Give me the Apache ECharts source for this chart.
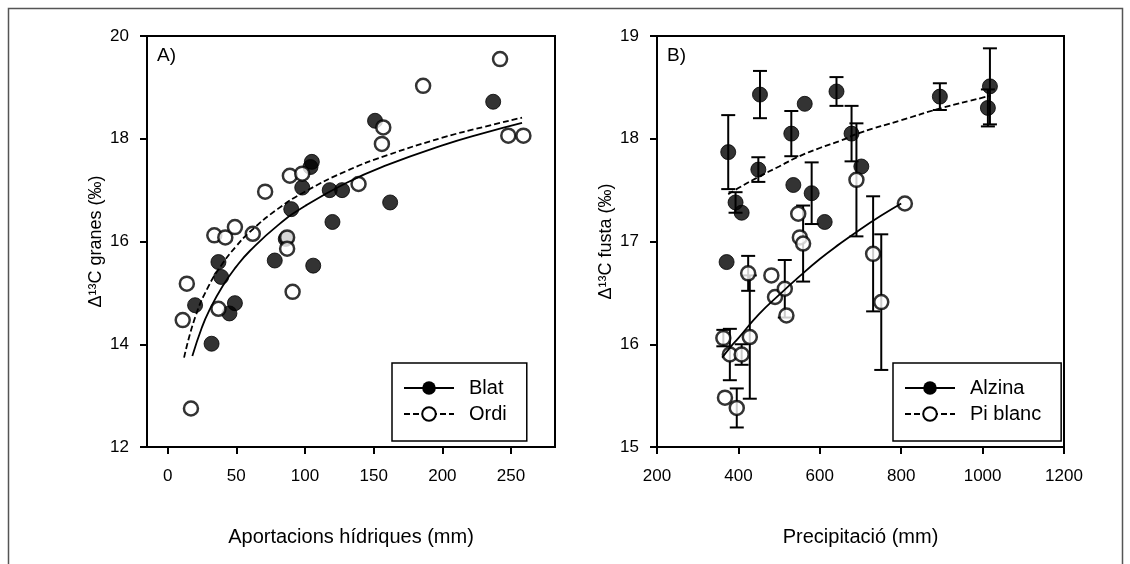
<!DOCTYPE html>
<html><head><meta charset="utf-8">
<script src="https://cdn.jsdelivr.net/npm/echarts@6/dist/echarts.min.js"></script>
<style>html,body{margin:0;padding:0;background:#fff}#c{width:1130px;height:564px}</style>
</head><body><div id="c"></div><script>
// ---------- Panel A data ----------
const blatX = [20, 32, 37, 39, 45, 49, 78, 86, 90, 98, 104, 105, 106, 118, 127, 120, 151, 162, 237];
const blatY = [14.76, 14.01, 15.60, 15.31, 14.60, 14.80, 15.63, 16.05, 16.63, 17.05, 17.45, 17.55, 15.53, 17.00, 17.00, 16.38, 18.35, 16.76, 18.72];
const ordiX = [11, 14, 17, 34, 37, 42, 49, 62, 71, 87, 87, 89, 91, 98, 139, 156, 157, 186, 242, 248, 259];
const ordiY = [14.47, 15.18, 12.75, 16.12, 14.69, 16.08, 16.28, 16.15, 16.97, 16.08, 15.86, 17.28, 15.02, 17.32, 17.12, 17.90, 18.22, 19.03, 19.55, 18.06, 18.06];
const ordiFitX = [12, 20, 30, 40, 50, 60, 80, 100, 130, 160, 200, 230, 258];
const ordiFitY = [13.74, 14.52, 15.14, 15.57, 15.91, 16.19, 16.63, 16.97, 17.37, 17.68, 18.02, 18.23, 18.41];
const blatFitX = [18, 25, 30, 40, 50, 60, 80, 100, 130, 160, 200, 230, 258];
const blatFitY = [13.77, 14.33, 14.64, 15.13, 15.51, 15.82, 16.31, 16.69, 17.14, 17.49, 17.87, 18.11, 18.31];
const aXTicks = [0, 50, 100, 150, 200, 250];

// ---------- Panel B data ----------
const alzX = [371, 375, 393, 408, 449, 453, 530, 535, 563, 580, 612, 641, 678, 702, 895, 1013, 1018];
const alzY = [16.80, 17.87, 17.38, 17.28, 17.70, 18.43, 18.05, 17.55, 18.34, 17.47, 17.19, 18.46, 18.05, 17.73, 18.41, 18.30, 18.51];
const alzE = [0, 0.36, 0.1, 0, 0.12, 0.23, 0.22, 0, 0, 0.30, 0, 0.14, 0.27, 0, 0.13, 0.18, 0.37];
const piX = [363, 367, 379, 396, 408, 424, 428, 481, 490, 514, 518, 547, 551, 559, 690, 731, 751, 809];
const piY = [16.06, 15.48, 15.90, 15.38, 15.90, 16.69, 16.07, 16.67, 16.46, 16.54, 16.28, 17.27, 17.04, 16.98, 17.60, 16.88, 16.41, 17.37];
const piE = [0.08, 0, 0.25, 0.19, 0.1, 0.17, 0.6, 0, 0, 0.28, 0, 0, 0, 0.37, 0.55, 0.56, 0.66, 0];
const alzFitX = [375, 400, 450, 500, 550, 600, 650, 700, 800, 900, 1000, 1020];
const alzFitY = [17.46, 17.52, 17.63, 17.73, 17.83, 17.91, 17.98, 18.06, 18.18, 18.30, 18.40, 18.42];
const piFitX = [360, 380, 400, 450, 500, 550, 600, 650, 700, 750, 800];
const piFitY = [15.87, 15.97, 16.06, 16.29, 16.48, 16.66, 16.83, 16.98, 17.12, 17.25, 17.37];

const FONT = "'Liberation Sans', Arial, sans-serif";
const zip = (xs, ys) => xs.map((x, i) => [x, ys[i]]);
const zip3 = (xs, ys, es) => xs.map((x, i) => [x, ys[i], es[i]]);

function errRender(params, api) {
  const x = api.value(0), y = api.value(1), e = api.value(2);
  if (!e) return {type: 'group', children: []};
  const top = api.coord([x, y + e]), bot = api.coord([x, y - e]);
  const cap = 7;
  const st = {stroke: '#000', lineWidth: 2};
  return {type: 'group', children: [
    {type: 'line', shape: {x1: top[0], y1: top[1], x2: bot[0], y2: bot[1]}, style: st},
    {type: 'line', shape: {x1: top[0] - cap, y1: top[1], x2: top[0] + cap, y2: top[1]}, style: st},
    {type: 'line', shape: {x1: bot[0] - cap, y1: bot[1], x2: bot[0] + cap, y2: bot[1]}, style: st}
  ]};
}

const axisCommon = {
  axisLine: {show: true, onZero: false, lineStyle: {color: '#000', width: 2}},
  axisTick: {show: true, inside: false, length: 7, lineStyle: {color: '#000', width: 2}},
  splitLine: {show: false},
  axisLabel: {color: '#000', fontSize: 17, fontFamily: FONT, formatter: v => String(v)},
  nameTextStyle: {color: '#000', fontFamily: FONT}
};

const filled = {color: '#000', borderColor: '#000', borderWidth: 1};
const open = {color: '#fff', borderColor: '#000', borderWidth: 2.5};

const legendCommon = {
  orient: 'vertical', top: 363,
  padding: [15, 20, 17, 11],
  borderColor: '#000', borderWidth: 1.5,
  itemWidth: 50, itemHeight: 17, itemGap: 6,
  textStyle: {color: '#000', fontSize: 20, fontFamily: FONT, padding: [0, 0, 0, 10]},
  selectedMode: false
};

const option = {
  animation: false,
  backgroundColor: '#fff',
  graphic: [
    {type: 'rect', shape: {x: 8.5, y: 8.5, width: 1114, height: 580}, style: {fill: 'none', stroke: '#555', lineWidth: 1.5}},
    {type: 'text', left: 157, top: 46, style: {text: 'A)', fontSize: 19, fontFamily: FONT, fill: '#000'}},
    {type: 'text', left: 667, top: 46, style: {text: 'B)', fontSize: 19, fontFamily: FONT, fill: '#000'}}
  ],
  grid: [
    {left: 147, top: 36, width: 408, height: 411, show: true, borderColor: '#000', borderWidth: 2},
    {left: 657, top: 36, width: 407, height: 411, show: true, borderColor: '#000', borderWidth: 2}
  ],
  legend: [
    Object.assign({}, legendCommon, {left: 392, data: ['Blat', 'Ordi']}),
    Object.assign({}, legendCommon, {left: 893, data: ['Alzina', 'Pi blanc']})
  ],
  xAxis: [
    Object.assign({}, axisCommon, {
      type: 'value', gridIndex: 0, min: -15, max: 282,
      axisTick: Object.assign({}, axisCommon.axisTick, {customValues: aXTicks}),
      axisLabel: Object.assign({}, axisCommon.axisLabel, {customValues: aXTicks, margin: 21}),
      name: 'Aportacions hídriques (mm)', nameLocation: 'middle', nameGap: 80,
      nameTextStyle: {color: '#000', fontFamily: FONT, fontSize: 20}
    }),
    Object.assign({}, axisCommon, {
      type: 'value', gridIndex: 1, min: 200, max: 1200, interval: 200,
      axisLabel: Object.assign({}, axisCommon.axisLabel, {margin: 21}),
      name: 'Precipitació (mm)', nameLocation: 'middle', nameGap: 80,
      nameTextStyle: {color: '#000', fontFamily: FONT, fontSize: 20}
    })
  ],
  yAxis: [
    Object.assign({}, axisCommon, {
      type: 'value', gridIndex: 0, min: 12, max: 20, interval: 2,
      axisLabel: Object.assign({}, axisCommon.axisLabel, {margin: 18}),
      name: 'Δ¹³C granes (‰)', nameLocation: 'middle', nameGap: 42, nameRotate: 90,
      nameTextStyle: {color: '#000', fontFamily: FONT, fontSize: 18}
    }),
    Object.assign({}, axisCommon, {
      type: 'value', gridIndex: 1, min: 15, max: 19, interval: 1,
      axisLabel: Object.assign({}, axisCommon.axisLabel, {margin: 18}),
      name: 'Δ¹³C fusta (‰)', nameLocation: 'middle', nameGap: 42, nameRotate: 90,
      nameTextStyle: {color: '#000', fontFamily: FONT, fontSize: 18}
    })
  ],
  series: [
    // legend-only entries
    {name: 'Blat', type: 'line', xAxisIndex: 0, yAxisIndex: 0, data: [], symbol: 'circle',
     itemStyle: {color: '#000'}, lineStyle: {color: '#000', width: 2}},
    {name: 'Ordi', type: 'line', xAxisIndex: 0, yAxisIndex: 0, data: [], symbol: 'emptyCircle',
     itemStyle: {color: '#000'}, lineStyle: {color: '#000', width: 2, type: [6, 3]}},
    {name: 'Alzina', type: 'line', xAxisIndex: 1, yAxisIndex: 1, data: [], symbol: 'circle',
     itemStyle: {color: '#000'}, lineStyle: {color: '#000', width: 2}},
    {name: 'Pi blanc', type: 'line', xAxisIndex: 1, yAxisIndex: 1, data: [], symbol: 'emptyCircle',
     itemStyle: {color: '#000'}, lineStyle: {color: '#000', width: 2, type: [6, 3]}},

    // Panel A points
    {name: 'Blat punts', type: 'scatter', xAxisIndex: 0, yAxisIndex: 0, z: 3,
     symbol: 'circle', symbolSize: 15, itemStyle: filled, data: zip(blatX, blatY)},
    {name: 'Ordi punts', type: 'scatter', xAxisIndex: 0, yAxisIndex: 0, z: 3,
     symbol: 'circle', symbolSize: 14, itemStyle: open, data: zip(ordiX, ordiY)},
    // Panel A fits
    {name: 'Blat ajust', type: 'line', xAxisIndex: 0, yAxisIndex: 0, z: 5, smooth: true,
     showSymbol: false, symbol: 'none', lineStyle: {color: '#000', width: 1.8}, data: zip(blatFitX, blatFitY)},
    {name: 'Ordi ajust', type: 'line', xAxisIndex: 0, yAxisIndex: 0, z: 5, smooth: true,
     showSymbol: false, symbol: 'none', lineStyle: {color: '#000', width: 1.8, type: [6, 3]}, data: zip(ordiFitX, ordiFitY)},

    // Panel B error bars
    {name: 'Alzina err', type: 'custom', xAxisIndex: 1, yAxisIndex: 1, z: 2,
     renderItem: errRender, encode: {x: 0, y: 1}, data: zip3(alzX, alzY, alzE)},
    {name: 'Pi err', type: 'custom', xAxisIndex: 1, yAxisIndex: 1, z: 2,
     renderItem: errRender, encode: {x: 0, y: 1}, data: zip3(piX, piY, piE)},
    // Panel B points
    {name: 'Alzina punts', type: 'scatter', xAxisIndex: 1, yAxisIndex: 1, z: 3,
     symbol: 'circle', symbolSize: 15, itemStyle: filled, data: zip(alzX, alzY)},
    {name: 'Pi punts', type: 'scatter', xAxisIndex: 1, yAxisIndex: 1, z: 3,
     symbol: 'circle', symbolSize: 14, itemStyle: open, data: zip(piX, piY)},
    // Panel B fits
    {name: 'Alzina ajust', type: 'line', xAxisIndex: 1, yAxisIndex: 1, z: 5, smooth: true,
     showSymbol: false, symbol: 'none', lineStyle: {color: '#000', width: 1.8, type: [6, 3]}, data: zip(alzFitX, alzFitY)},
    {name: 'Pi ajust', type: 'line', xAxisIndex: 1, yAxisIndex: 1, z: 5, smooth: true,
     showSymbol: false, symbol: 'none', lineStyle: {color: '#000', width: 1.8}, data: zip(piFitX, piFitY)}
  ]
};

const chart = echarts.init(document.getElementById('c'), null, {renderer: 'canvas'});
chart.setOption(option);
</script></body></html>
